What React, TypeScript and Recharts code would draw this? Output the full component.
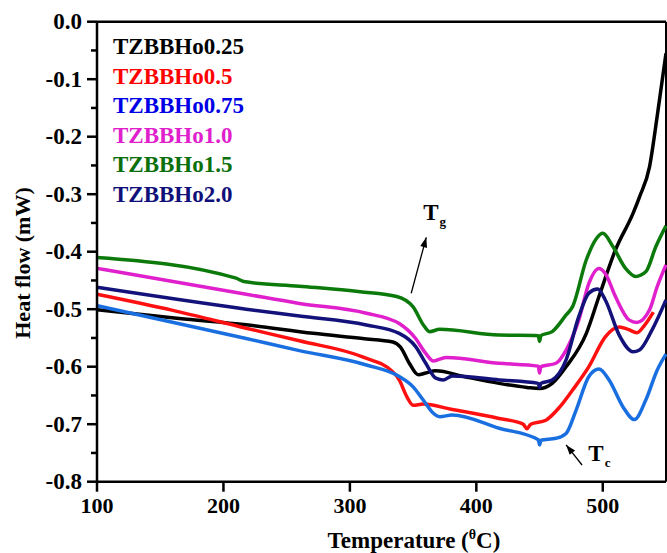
import { LineChart, Line, XAxis, YAxis, Legend, ReferenceLine, ReferenceDot } from 'recharts';

// DSC traces, temperature (°C) vs heat flow (mW)
const t025 = [100, 165, 218, 271, 310, 334, 340, 347, 354, 360, 368, 390, 418, 440, 450, 460, 471, 487, 497, 510, 524, 529, 537, 543, 550];
const hf025 = [-0.501, -0.516, -0.527, -0.542, -0.551, -0.557, -0.566, -0.594, -0.614, -0.611, -0.607, -0.617, -0.629, -0.636, -0.638, -0.629, -0.6, -0.542, -0.478, -0.397, -0.333, -0.305, -0.252, -0.165, -0.055];

const t05 = [100, 160, 218, 260, 310, 334, 339, 345, 350, 358, 380, 418, 437, 440, 443, 455, 466, 476, 489, 502, 513, 520, 527, 533, 540];
const hf05 = [-0.474, -0.502, -0.533, -0.555, -0.583, -0.609, -0.623, -0.652, -0.667, -0.665, -0.674, -0.69, -0.7, -0.708, -0.7, -0.693, -0.67, -0.641, -0.6, -0.548, -0.531, -0.535, -0.541, -0.528, -0.505];

const t075 = [100, 218, 260, 313, 339, 350, 358, 366, 371, 381, 418, 449, 450, 451, 463, 471, 479, 489, 497, 505, 516, 525, 534, 543, 550];
const hf075 = [-0.494, -0.551, -0.572, -0.597, -0.617, -0.635, -0.658, -0.681, -0.687, -0.684, -0.707, -0.727, -0.736, -0.728, -0.7245, -0.716, -0.675, -0.617, -0.604, -0.623, -0.67, -0.692, -0.658, -0.606, -0.578];

const t10 = [100, 218, 260, 313, 339, 352, 360, 366, 376, 418, 449, 450, 451, 463, 471, 481, 489, 497, 502, 510, 521, 527, 537, 543, 550];
const hf10 = [-0.429, -0.474, -0.49, -0.507, -0.525, -0.551, -0.577, -0.59, -0.584, -0.594, -0.599, -0.611, -0.6, -0.594, -0.571, -0.519, -0.455, -0.429, -0.438, -0.478, -0.519, -0.523, -0.501, -0.461, -0.423];

const t15 = [100, 210, 216, 260, 308, 337, 350, 358, 363, 371, 418, 449, 450, 451, 460, 471, 476, 487, 495, 500, 508, 518, 526, 534, 542, 550];
const hf15 = [-0.41, -0.446, -0.452, -0.46, -0.4695, -0.478, -0.496, -0.527, -0.539, -0.535, -0.545, -0.546, -0.556, -0.546, -0.539, -0.51, -0.496, -0.414, -0.377, -0.368, -0.391, -0.429, -0.443, -0.435, -0.391, -0.355];

const t20 = [100, 218, 260, 313, 339, 352, 360, 368, 374, 381, 418, 449, 450, 451, 460, 471, 481, 489, 496, 502, 513, 524, 529, 539, 550];
const hf20 = [-0.462, -0.5, -0.512, -0.5275, -0.542, -0.565, -0.594, -0.62, -0.623, -0.616, -0.623, -0.629, -0.636, -0.629, -0.623, -0.588, -0.513, -0.472, -0.465, -0.484, -0.545, -0.574, -0.571, -0.536, -0.484];

const xTicks = [100, 200, 300, 400, 500];
const yTicks = [-0.8, -0.75, -0.7, -0.65, -0.6, -0.55, -0.5, -0.45, -0.4, -0.35, -0.3, -0.25, -0.2, -0.15, -0.1, -0.05, 0];

const pts = (t: number[], v: number[]) => t.map((x, i) => ({ t: x, v: v[i] }));

const series = [
  { name: 'TZBBHo0.25', data: pts(t025, hf025), stroke: '#000000', text: '#000000' },
  { name: 'TZBBHo0.5', data: pts(t05, hf05), stroke: '#ff1010', text: '#ff0000' },
  { name: 'TZBBHo0.75', data: pts(t075, hf075), stroke: '#1a6fe0', text: '#0000e6' },
  { name: 'TZBBHo1.0', data: pts(t10, hf10), stroke: '#e020cc', text: '#e020cc' },
  { name: 'TZBBHo1.5', data: pts(t15, hf15), stroke: '#0b7a0b', text: '#0b700b' },
  { name: 'TZBBHo2.0', data: pts(t20, hf20), stroke: '#12127a', text: '#10107a' },
];

const FONT = '"Liberation Serif", "Times New Roman", serif';

const YTick = ({ x, y, payload }: any) => {
  const major = Math.abs(payload.value * 10 - Math.round(payload.value * 10)) < 1e-6;
  return (
    <g>
      <line x1={x} x2={x - (major ? 10 : 6)} y1={y} y2={y} stroke="#000" strokeWidth={2.5} />
      {major && (
        <text x={x - 15} y={y} dy={7.5} textAnchor="end" fontFamily={FONT} fontWeight="bold" fontSize={23} fill="#000">
          {payload.value.toFixed(1)}
        </text>
      )}
    </g>
  );
};

const XTick = ({ x, y, payload }: any) => (
  <g>
    <line x1={x} x2={x} y1={y} y2={y + 10} stroke="#000" strokeWidth={2.5} />
    <text x={x} y={y + 31} textAnchor="middle" fontFamily={FONT} fontWeight="bold" fontSize={22} fill="#000">
      {payload.value}
    </text>
  </g>
);

// arrowhead drawn at a reference point, pointing along `angle` (degrees)
const arrowHead = (angle: number) => (props: any) => (
  <polygon
    points="0,0 -10,-3.5 -10,3.5"
    fill="#000"
    transform={`translate(${props.cx},${props.cy}) rotate(${angle})`}
  />
);

const subLabel = (main: string, sub: string) => (props: any) => (
  <text x={props.cx} y={props.cy + 8} fontFamily={FONT} fontWeight="bold" fill="#000" textAnchor="middle">
    <tspan fontSize={23}>{main}</tspan>
    <tspan fontSize={13} dx={1} dy={6}>{sub}</tspan>
  </text>
);

export default function App() {
  return (
    <div style={{ position: 'absolute', left: 0, top: 0 }}>
      <LineChart width={667} height={553} margin={{ top: 21.7, right: 1, left: 0, bottom: 0 }}>
        <XAxis
          type="number"
          dataKey="t"
          domain={[100, 550]}
          ticks={xTicks}
          interval={0}
          height={71.3}
          stroke="#000"
          strokeWidth={2.5}
          tickLine={false}
          tickSize={0}
          tickMargin={0}
          tick={<XTick />}
          label={{
            content: () => (
              <text x={414} y={548} textAnchor="middle" fontFamily={FONT} fontWeight="bold" fontSize={23} fill="#000">
                Temperature (<tspan fontSize={14} dy={-9}>θ</tspan>
                <tspan dy={9}>C)</tspan>
              </text>
            ),
          }}
        />
        <YAxis
          type="number"
          domain={[-0.8, 0]}
          ticks={yTicks}
          interval={0}
          width={97}
          stroke="#000"
          strokeWidth={2.5}
          tickLine={false}
          tickSize={0}
          tickMargin={0}
          tick={<YTick />}
          label={{
            content: () => (
              <text
                x={22}
                y={263}
                transform="rotate(-90 22 263)"
                textAnchor="middle"
                dominantBaseline="central"
                fontFamily={FONT}
                fontWeight="bold"
                fontSize={22}
                fill="#000"
              >
                Heat flow (mW)
              </text>
            ),
          }}
        />
        <ReferenceLine y={0} stroke="#000" strokeWidth={2.5} />
        <ReferenceLine x={550} stroke="#000" strokeWidth={2} />
        {series.map((s) => (
          <Line
            key={s.name}
            data={s.data}
            dataKey="v"
            name={s.name}
            type="monotone"
            stroke={s.stroke}
            strokeWidth={3.5}
            dot={false}
            isAnimationActive={false}
          />
        ))}
        <ReferenceLine segment={[{ x: 348.5, y: -0.4723 }, { x: 360.4, y: -0.375 }]} stroke="#000" strokeWidth={1.3} />
        <ReferenceDot x={360.4} y={-0.375} r={0} shape={arrowHead(-75)} />
        <ReferenceDot x={367} y={-0.3304} r={0} shape={subLabel('T', 'g')} />
        <ReferenceLine segment={[{ x: 483.6, y: -0.771 }, { x: 471, y: -0.736 }]} stroke="#000" strokeWidth={1.3} />
        <ReferenceDot x={471} y={-0.736} r={0} shape={arrowHead(-129)} />
        <ReferenceDot x={497.3} y={-0.7506} r={0} shape={subLabel('T', 'c')} />
        <Legend
          layout="vertical"
          align="center"
          verticalAlign="middle"
          wrapperStyle={{ left: 113, top: 32, width: 220 }}
          content={() => (
            <div>
              {series.map((s) => (
                <div
                  key={s.name}
                  style={{ color: s.text, fontFamily: FONT, fontWeight: 'bold', fontSize: 23, lineHeight: '29.5px', whiteSpace: 'nowrap' }}
                >
                  {s.name}
                </div>
              ))}
            </div>
          )}
        />
      </LineChart>
    </div>
  );
}
